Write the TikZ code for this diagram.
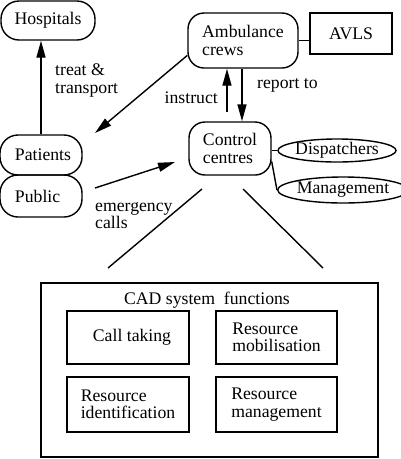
\documentclass[tikz,border=0pt]{standalone}
\usepackage{fontspec}
\setmainfont{Liberation Serif}
\usetikzlibrary{arrows.meta,shapes.geometric,calc}
\begin{document}
\begin{tikzpicture}[x=1pt,y=-1pt,
  font=\fontsize{17.7}{17.5}\selectfont,
  every node/.style={inner sep=0pt},
  lw/.style={line width=1.4pt},
  rbox/.style={draw,lw,rectangle,rounded corners=16pt,align=left},
  pill/.style={draw,lw,rectangle,rounded corners=18pt,align=left},
  sbox/.style={draw,lw,rectangle,align=left},
  ebox/.style={draw,lw,ellipse},
  txt/.style={align=left},
  conn/.style={lw},
  arr/.style={lw,-{Triangle[length=17pt,width=9pt]}}]
\useasboundingbox (0,0) rectangle (401,459);

% top nodes
\node[pill,minimum width=94pt,minimum height=39pt] (hosp) at (48,20.5) {Hospitals};
\node[rbox,minimum width=110pt,minimum height=55pt] (amb) at (243,40.5) {Ambulance\\crews};
\node[sbox,minimum width=82pt,minimum height=41pt] (avls) at (351,33.5) {AVLS};
\node[pill,minimum width=82pt,minimum height=40pt] (pat) at (41,155) {\makebox[52pt][l]{Patients}};
\node[pill,minimum width=82pt,minimum height=42pt] (pub) at (41,196) {\makebox[52pt][l]{Public}};
\node[rbox,minimum width=82pt,minimum height=53pt] (ctrl) at (230,148.5) {Control\\centres};
\node[ebox,minimum width=108pt,minimum height=23pt] (disp) at (337,150.5) {Dispatchers};
\node[ebox,minimum width=116pt,minimum height=26pt] (mgmt) at (343,190) {Management};

% CAD box
\node[sbox,minimum width=337pt,minimum height=174pt] (cad) at (209.5,370) {};
\node[txt] (cadt) at (207,300) {CAD system\ \ functions};
\node[sbox,minimum width=122pt,minimum height=53pt] (call) at (128,337.5) {\hspace{8pt}Call taking};
\node[sbox,minimum width=121pt,minimum height=53pt] (mob) at (276.5,337.5) {Resource\\mobilisation};
\node[sbox,minimum width=122pt,minimum height=55pt] (ident) at (128,404.5) {Resource\\identification};
\node[sbox,minimum width=121pt,minimum height=55pt] (rman) at (276.5,404.5) {Resource\\management};

% labels
\node[txt,anchor=west] (ltreat) at (55,80.5) {treat \&\\transport};
\node[txt,anchor=east] (linstr) at (218,98) {instruct};
\node[txt,anchor=west] (lrep) at (257,85) {report to};
\node[txt,anchor=west] (lemerg) at (95,215.5) {emergency\\calls};

% free end coordinates
\coordinate (patin) at (95,133);
\coordinate (pubout) at (95,188);
\coordinate (ctrlin) at (175,162);
\coordinate (instrstart) at (227,112);
\coordinate (ll1) at (202,189);
\coordinate (ll2) at (108,268);
\coordinate (rl1) at (243,189);
\coordinate (rl2) at (323,268);

% connectors
\draw[arr] (pat.north) -- (pat.north |- hosp.south);
\draw[arr] (amb.195) -- (patin);
\draw[arr] (pubout) -- (ctrlin);
\draw[arr] (instrstart) -- (instrstart |- amb.south);
\draw[arr] ([xshift=-1pt]amb.south) -- ([xshift=-1pt]amb.south |- ctrl.north);
\draw[conn] (amb.east) -- (amb.east -| avls.west);
\draw[conn] (ctrl.east |- disp.west) -- (disp.west);
\draw[conn] ([yshift=-13pt]ctrl.east) -- (mgmt.west);
\draw[conn] (ll1) -- (ll2);
\draw[conn] (rl1) -- (rl2);
\end{tikzpicture}
\end{document}
